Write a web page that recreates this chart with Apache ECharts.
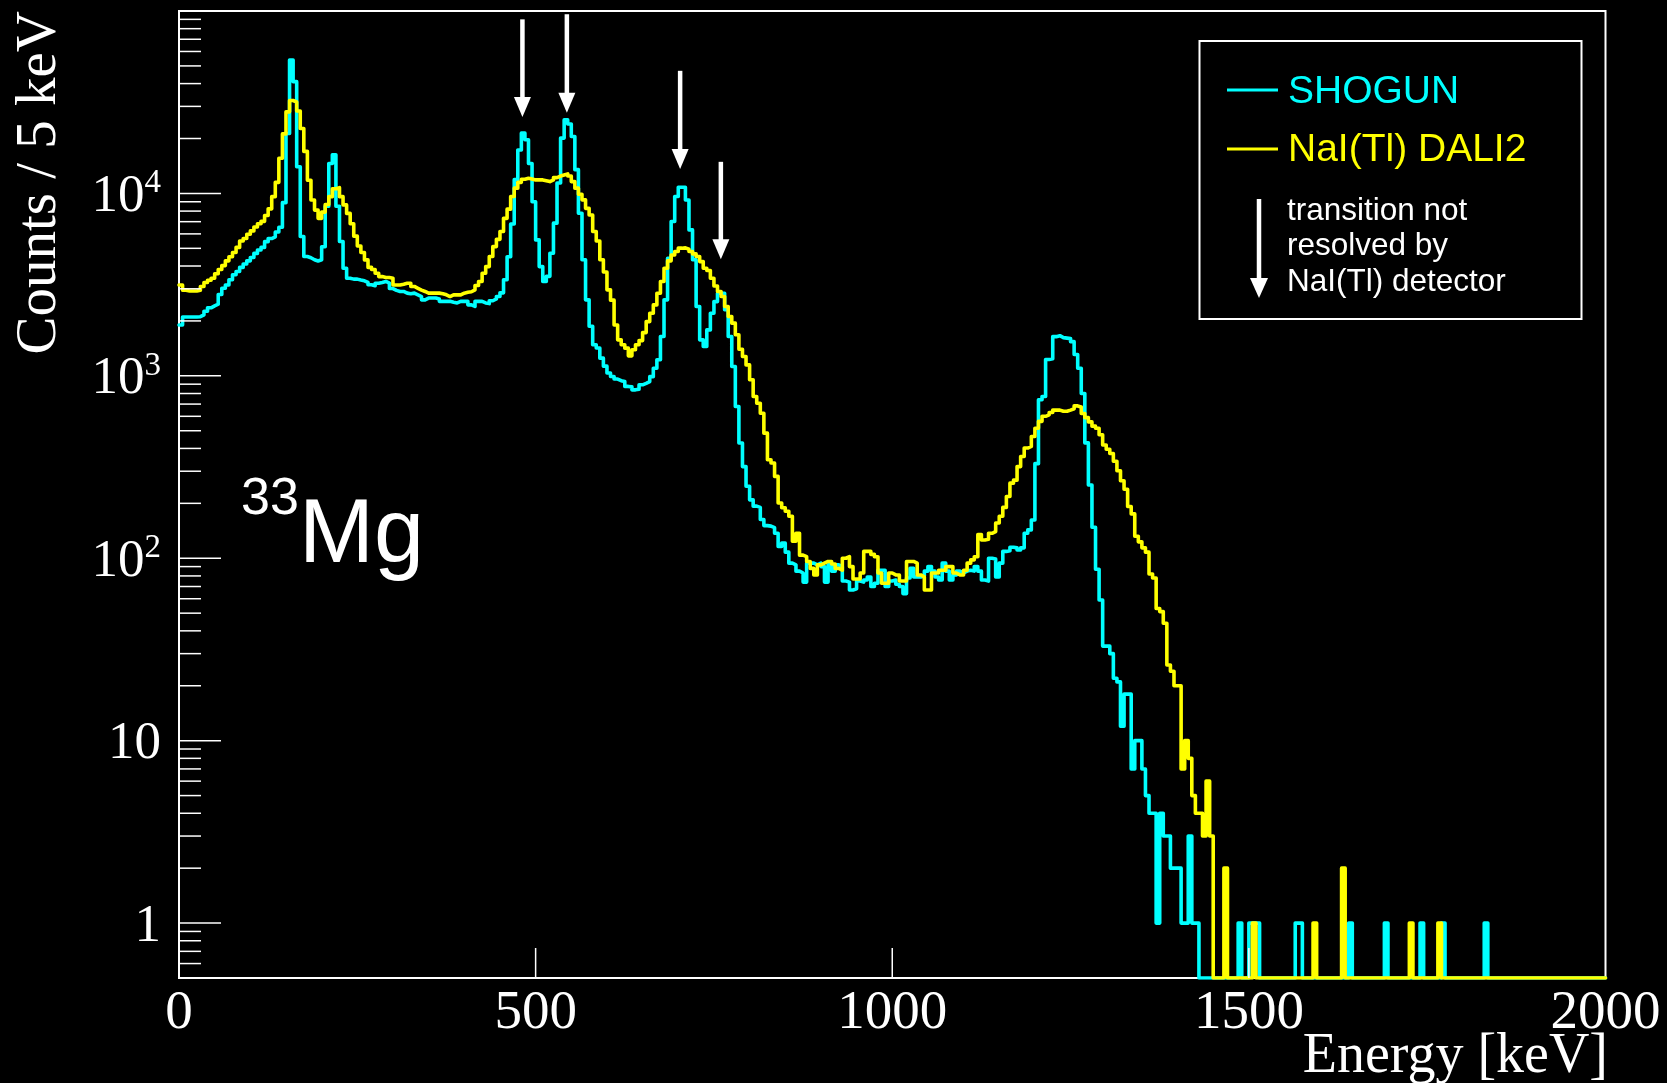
<!DOCTYPE html>
<html>
<head>
<meta charset="utf-8">
<script src="https://cdn.jsdelivr.net/npm/echarts@6/dist/echarts.min.js"></script>
<style>
html,body{margin:0;padding:0;background:#000;}
#c{width:1667px;height:1083px;}
</style>
</head>
<body>
<div id="c"></div>
<script>
// ---- data: counts per 5 keV bin, bin i covers [5i, 5i+5) keV ----
const binWidth = 5;
const shogun = [
1900,2100,2100,2100,2100,2110,2160,2260,2360,2420,
2470,2790,3020,3150,3360,3580,3730,3930,4100,4270,
4450,4690,4900,5060,5440,5660,5780,6140,6530,8900,
21300,53900,41000,14000,5800,4510,4440,4330,4260,4330,
5100,8500,14600,16300,8500,5450,3890,3430,3390,3390,
3350,3320,3250,3160,3120,3220,3250,3290,3220,3010,
2940,2900,2900,2840,2820,2840,2780,2720,2610,2670,
2670,2670,2640,2560,2560,2560,2530,2510,2560,2560,
2560,2450,2400,2560,2560,2510,2490,2580,2640,2720,
2850,3360,4500,6800,11900,17300,21400,19700,14600,9000,
5560,3970,3290,3510,4700,6870,11400,20100,25300,24000,
20500,13500,7790,4330,2610,1870,1480,1420,1250,1130,
1036,992,960,940,930,875,870,838,845,893,
910,930,990,1100,1224,1643,2610,4410,7010,9610,
10800,10800,9210,6310,4330,2400,1575,1448,1786,2204,
2553,2838,2838,2302,1643,1125,679,428,318,248,
209,193,190,163,151,150,147,137,116,121,
108,94,92,85,83,74,94,94,92,94,
90,74,92,85,92,90,75,74,67,68,
75,74,76,79,70,73,86,86,70,75,
76,72,70,64,78,88,79,79,80,85,
90,85,79,76,94,85,76,81,85,83,
85,86,85,90,85,76,75,100,99,79,
94,109,110,115,114,111,114,137,143,162,
330,740,770,1230,1240,1640,1660,1620,1610,1600,
1540,1310,1100,800,429,252,148,87,59,33,
33,30,22,21,12,18,18,7,10,10,
7,5,4,4,1,4,3,3,2,2,
2,1,1,3,1,1,0,0,0,0,
0,0,0,0,0,0,0,1,0,0,
1,1,1,0,0,0,0,0,0,0,
0,0,0,1,1,0,0,0,0,0,
0,0,0,0,0,0,0,0,1,0,
0,0,0,0,0,0,0,0,1,0,
0,0,0,0,0,0,0,0,1,0,
0,0,0,0,1,0,0,0,0,0,
0,0,0,0,0,0,1,0,0,0,
0,0,0,0,0,0,0,0,0,0,
0,0,0,0,0,0,0,0,0,0,
0,0,0,0,0,0,0,0,0,0
];
const dali2 = [
3150,2950,2920,2920,2920,2950,3090,3250,3340,3430,
3630,3830,4020,4270,4500,4740,5060,5480,5660,5970,
6230,6550,6820,7030,7570,8230,9600,11500,15600,21200,
28000,32300,31700,28300,22700,17000,11800,9200,8100,7300,
7900,8700,9600,10600,10750,9600,8650,7770,6820,5830,
5150,4740,4320,3930,3830,3650,3500,3460,3460,3430,
3150,3150,3180,3220,3220,3090,3020,2950,2900,2840,
2840,2840,2840,2820,2780,2720,2780,2780,2780,2840,
2870,2890,2960,3130,3290,3650,3970,4510,5110,5600,
6180,7300,8200,9620,10690,11500,11950,12110,12000,11860,
11860,11860,11750,11610,11860,12200,12450,12630,12800,12450,
11610,10690,9900,9220,8280,7620,6180,5480,4330,3710,
2960,2600,1900,1575,1480,1418,1287,1390,1480,1560,
1726,1983,2204,2449,2838,3288,3890,4270,4600,4800,
5010,5030,4940,4800,4660,4510,4230,3890,3780,3430,
3110,2900,2720,2400,2115,1944,1679,1400,1276,1148,
951,771,708,624,485,347,333,281,201,189,
181,170,124,137,104,102,96,88,81,92,
94,96,96,93,88,86,100,102,90,77,
77,83,109,109,105,102,83,73,73,83,
81,81,75,75,96,96,94,81,79,67,
67,83,83,86,86,90,90,83,81,81,
86,94,98,102,135,126,127,137,140,156,
170,190,218,258,268,318,361,402,410,465,
516,563,600,611,630,649,649,639,639,649,
660,684,675,622,590,559,530,516,475,418,
396,375,340,302,266,239,192,175,132,123,
114,108,82,78,53,51,44,26,24,20,
20,7,10,8,5,4,4,3,6,3,
0,0,0,2,0,0,0,0,0,0,
0,1,0,0,0,0,0,0,0,0,
0,0,0,0,0,0,0,0,1,0,
0,0,0,0,0,0,2,0,0,0,
0,0,0,0,0,0,0,0,0,0,
0,0,0,0,0,1,0,0,0,0,
0,0,0,1,0,0,0,0,0,0,
0,0,0,0,0,0,0,0,0,0,
0,0,0,0,0,0,0,0,0,0,
0,0,0,0,0,0,0,0,0,0,
0,0,0,0,0,0,0,0,0,0
];
const seriesNames = ['SHOGUN', 'NaI(Tl) DALI2'];
const xTickLabels = [0, 500, 1000, 1500, 2000];
const yDecades = [1, 10, 100, 1000, 10000];
// arrows: "transition not resolved by NaI(Tl) detector" (energy keV, top count, tip count)
const arrowE   = [481.5, 543.8, 702.6, 759.7];
const arrowTop = [90000, 96000, 47000, 14900];
const arrowTip = [26200, 27700, 13600, 4360];

const xMin = 0, xMax = 2000, yMin = 0.5, yMax = 100000;

// ---- build histogram outlines (zero bins drawn at the frame bottom, as ROOT does) ----
function histPoints(vals) {
  const pts = vals.map((v, i) => [i * binWidth, v > 0 ? v : yMin]);
  const last = vals[vals.length - 1];
  pts.push([vals.length * binWidth, last > 0 ? last : yMin]);
  return pts;
}
// y tick list (major decades + minor 2..9)
const yTicks = [];
yDecades.forEach(d => yTicks.push([xMin, d, 1]));
[0.1, 1, 10, 100, 1000, 10000].forEach(d => {
  for (let m = 2; m <= 9; m++) {
    const v = d * m;
    if (v > yMin && v < yMax) yTicks.push([xMin, v, 0]);
  }
});
const xTicks = xTickLabels.filter(v => v > xMin && v < xMax).map(v => [v, yMin]);

const serif = "'Liberation Serif','Times New Roman',serif";
const sans = "'Liberation Sans',Arial,Helvetica,sans-serif";
const CYAN = '#00ffff', YELLOW = '#ffff00', WHITE = '#ffffff';

const chart = echarts.init(document.getElementById('c'), null, {renderer: 'canvas'});
chart.setOption({
  backgroundColor: '#000',
  animation: false,
  grid: {left: 179, top: 11, right: 61.5, bottom: 105, show: true, borderColor: WHITE, borderWidth: 2, backgroundColor: 'transparent'},
  xAxis: {
    type: 'value', min: xMin, max: xMax, interval: 500,
    axisLine: {show: false}, axisTick: {show: false}, splitLine: {show: false},
    axisLabel: {color: WHITE, fontFamily: serif, fontSize: 55, lineHeight: 55, margin: 8, showMinLabel: true, showMaxLabel: true,
                formatter: v => String(v)}
  },
  yAxis: {
    type: 'log', logBase: 10, min: yMin, max: yMax,
    axisLine: {show: false}, axisTick: {show: false}, splitLine: {show: false},
    axisLabel: {
      margin: 18, showMinLabel: true, showMaxLabel: true, padding: [7, 0, 0, 0],
      formatter: function (v) {
        const l = Math.log10(v), e = Math.round(l);
        if (Math.abs(l - e) > 1e-6 || e < 0 || e > 4) return '';
        if (e === 0) return '{b|1}';
        if (e === 1) return '{b|10}';
        return '{b|10}{s|' + e + '}';
      },
      rich: {
        b: {color: WHITE, fontFamily: serif, fontSize: 53, lineHeight: 60},
        s: {color: WHITE, fontFamily: serif, fontSize: 33, lineHeight: 33, verticalAlign: 'top'}
      }
    }
  },
  series: [
    {name: seriesNames[0], type: 'line', step: 'end', data: histPoints(shogun), showSymbol: false, symbol: 'none',
     lineStyle: {color: CYAN, width: 3.6, join: 'round', cap: 'round'}, z: 2},
    {name: seriesNames[1], type: 'line', step: 'end', data: histPoints(dali2), showSymbol: false, symbol: 'none',
     lineStyle: {color: YELLOW, width: 3.6, join: 'round', cap: 'round'}, z: 3},
    {type: 'custom', coordinateSystem: 'cartesian2d', silent: true, z: 4, data: yTicks,
     renderItem: function (params, api) {
       const p = api.coord([api.value(0), api.value(1)]);
       const len = api.value(2) ? 42 : 22;
       return {type: 'line', shape: {x1: p[0], y1: p[1], x2: p[0] + len, y2: p[1]}, style: {stroke: WHITE, lineWidth: 1.5}};
     }},
    {type: 'custom', coordinateSystem: 'cartesian2d', silent: true, z: 4, data: xTicks,
     renderItem: function (params, api) {
       const p = api.coord([api.value(0), api.value(1)]);
       return {type: 'line', shape: {x1: p[0], y1: p[1], x2: p[0], y2: p[1] - 30}, style: {stroke: WHITE, lineWidth: 1.5}};
     }}
  ]
});

// ---- annotations ----
function arrow(x, y1, y2, w, h, color) {
  return [
    {type: 'line', shape: {x1: x, y1: y1, x2: x, y2: y2 - h + 1}, style: {stroke: color, lineWidth: 4.5}, z: 50},
    {type: 'polygon', shape: {points: [[x - w / 2, y2 - h], [x + w / 2, y2 - h], [x, y2]]}, style: {fill: color}, z: 50}
  ];
}
const g = [];
arrowE.forEach((e, i) => {
  const pTop = chart.convertToPixel({gridIndex: 0}, [e, arrowTop[i]]);
  const pTip = chart.convertToPixel({gridIndex: 0}, [e, arrowTip[i]]);
  g.push(...arrow(pTop[0], pTop[1], pTip[1], 17, 20, WHITE));
});
// legend box
g.push({type: 'rect', shape: {x: 1199.5, y: 41, width: 382, height: 278}, style: {fill: '#000', stroke: WHITE, lineWidth: 2}, z: 40});
g.push({type: 'line', shape: {x1: 1227, y1: 90, x2: 1278, y2: 90}, style: {stroke: CYAN, lineWidth: 3}, z: 50});
g.push({type: 'line', shape: {x1: 1227, y1: 149, x2: 1278, y2: 149}, style: {stroke: YELLOW, lineWidth: 3}, z: 50});
g.push({type: 'text', x: 1288, y: 92, style: {text: seriesNames[0], fill: CYAN, font: '39px ' + sans, verticalAlign: 'middle', align: 'left'}, z: 50});
g.push({type: 'text', x: 1288, y: 150, style: {text: seriesNames[1], fill: YELLOW, font: '39px ' + sans, verticalAlign: 'middle', align: 'left'}, z: 50});
g.push(...arrow(1259, 199, 298, 18, 20, WHITE));
['transition not', 'resolved by', 'NaI(Tl) detector'].forEach((t, i) => {
  g.push({type: 'text', x: 1287, y: [211.5, 246.5, 282.5][i], style: {text: t, fill: WHITE, font: '31.5px ' + sans, verticalAlign: 'middle', align: 'left'}, z: 50});
});
// nucleus label
g.push({type: 'text', x: 241, y: 500, style: {text: '33', fill: WHITE, font: '52px ' + sans, verticalAlign: 'middle', align: 'left'}, z: 50});
g.push({type: 'text', x: 299, y: 537, style: {text: 'Mg', fill: WHITE, font: '90px ' + sans, verticalAlign: 'middle', align: 'left'}, z: 50});
// axis titles
g.push({type: 'text', x: 1608, y: 1057, style: {text: 'Energy [keV]', fill: WHITE, font: '56px ' + serif, verticalAlign: 'middle', align: 'right'}, z: 50});
g.push({type: 'text', x: 40, y: 11, rotation: Math.PI / 2, style: {text: 'Counts / 5 keV', fill: WHITE, font: '57px ' + serif, verticalAlign: 'middle', align: 'right'}, z: 50});
chart.setOption({graphic: {elements: g}});
</script>
</body>
</html>
